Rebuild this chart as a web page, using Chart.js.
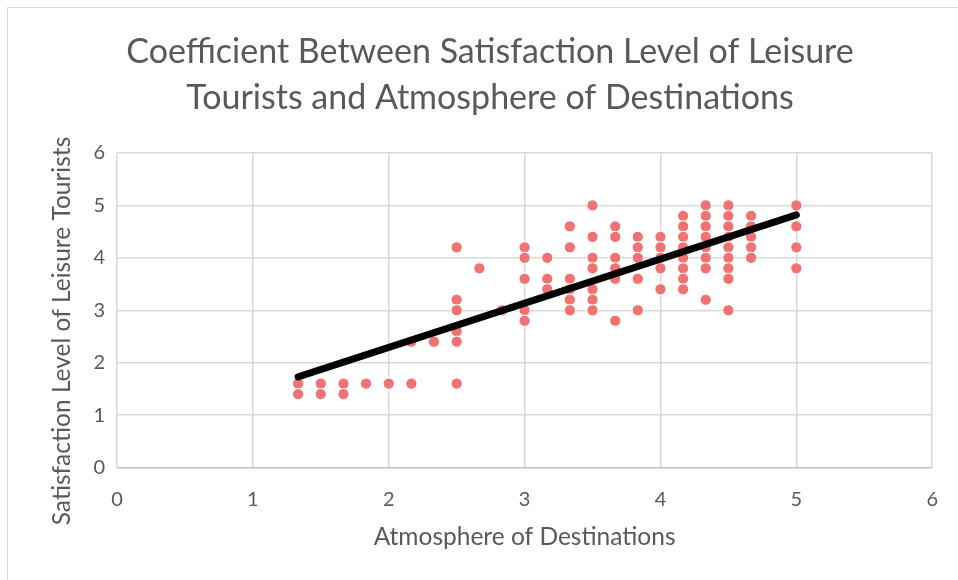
<!DOCTYPE html>
<html>
<head>
<meta charset="utf-8">
<script src="https://cdn.jsdelivr.net/npm/chart.js@4/dist/chart.umd.min.js"></script>
<style>
html,body{margin:0;padding:0;background:#fff;}
#wrap{position:relative;width:958px;height:580px;overflow:hidden;}
#frame{position:absolute;left:7px;top:7px;width:980px;height:600px;border:1px solid #d9d9d9;box-sizing:border-box;}
canvas{position:absolute;left:0;top:0;}
</style>
</head>
<body>
<div id="wrap"><div id="frame"></div><canvas id="chart1" width="958" height="580"></canvas></div>
<script>
/* DATA: one atmosphere score per column, satisfaction scores in that column */
const atmosphereLevels=[1.333,1.5,1.667,1.833,2,2.167,2.333,2.5,2.667,2.833,3,3.167,3.333,3.5,3.667,3.833,4,4.167,4.333,4.5,4.667,5];
const satisfactionByLevel=[
  [1.6,1.4],
  [1.6,1.4],
  [1.6,1.4],
  [1.6],
  [1.6],
  [2.4,1.6],
  [2.4],
  [4.2,3.2,3.0,2.6,2.4,1.6],
  [3.8],
  [3.0],
  [4.2,4.0,3.6,3.0,2.8],
  [4.0,3.6,3.4],
  [4.6,4.2,3.6,3.4,3.2,3.0],
  [5.0,4.4,4.0,3.8,3.4,3.2,3.0],
  [4.6,4.4,4.0,3.8,3.6,2.8],
  [4.4,4.2,4.0,3.6,3.0],
  [4.4,4.2,4.0,3.8,3.4],
  [4.8,4.6,4.4,4.2,4.0,3.8,3.6,3.4],
  [5.0,4.8,4.6,4.4,4.2,4.0,3.8,3.2],
  [5.0,4.8,4.6,4.4,4.2,4.0,3.8,3.6,3.0],
  [4.8,4.6,4.4,4.2,4.0],
  [5.0,4.6,4.2,3.8]
];

/* linear trendline end points */
const trendX=[1.333,5];
const trendY=[1.73,4.82];

/* axis ticks */
const tickValues=[0,1,2,3,4,5,6];

const TEXT="#595959";
const FONT="Lato, 'Open Sans', sans-serif";
const Y_TITLE="Satisfaction Level of Leisure Tourists";

const points=atmosphereLevels.flatMap((x,i)=>satisfactionByLevel[i].map(y=>({x,y})));
const trend=trendX.map((x,i)=>({x,y:trendY[i]}));

function setTicks(scale){
  scale.ticks=tickValues.map(v=>({value:v}));
}

/* rotated y title, sits a bit lower than the plot centre */
const yTitle={
  id:"yTitle",
  afterDraw(chart){
    const ctx=chart.ctx;
    ctx.save();
    ctx.translate(62,331);
    ctx.rotate(-Math.PI/2);
    ctx.font="24.5px "+FONT;
    ctx.fillStyle=TEXT;
    ctx.textAlign="center";
    ctx.textBaseline="middle";
    ctx.fillText(Y_TITLE,0,0);
    ctx.restore();
  }
};

new Chart(chart1,{
  type:"scatter",
  data:{
    datasets:[
      {
        type:"line",
        data:trend,
        borderColor:"#000",
        borderWidth:7,
        borderCapStyle:"round",
        pointRadius:0,
        fill:false,
        order:0
      },
      {
        data:points,
        backgroundColor:"#f17272",
        borderColor:"#ffffff",
        borderWidth:1,
        pointRadius:5.6,
        order:1
      }
    ]
  },
  options:{
    responsive:false,
    animation:false,
    layout:{padding:{left:22,right:0,top:0,bottom:0}},
    plugins:{
      legend:{display:false},
      tooltip:{enabled:false},
      title:{
        display:true,
        text:["Coefficient Between Satisfaction Level of Leisure","Tourists and Atmosphere of Destinations"],
        color:TEXT,
        font:{family:FONT,size:34,weight:"normal",lineHeight:"46px"},
        padding:{top:29,bottom:32}
      }
    },
    scales:{
      x:{
        type:"linear",
        min:0,max:6,
        afterBuildTicks:setTicks,
        afterFit:s=>{s.height=112.5;},
        border:{display:false},
        grid:{color:"#d9d9d9",lineWidth:1.5,drawTicks:false},
        ticks:{color:TEXT,font:{family:FONT,size:20},padding:20},
        title:{display:true,text:"Atmosphere of Destinations",color:TEXT,font:{family:FONT,size:24.5},padding:{bottom:28}}
      },
      y:{
        type:"linear",
        min:0,max:6,
        afterBuildTicks:setTicks,
        afterFit:s=>{s.width=95;},
        border:{display:false},
        grid:{color:c=>c.tick&&c.tick.value===0?"#bfbfbf":"#d9d9d9",lineWidth:1.5,drawTicks:false},
        ticks:{color:TEXT,font:{family:FONT,size:20},padding:12}
      }
    }
  },
  plugins:[yTitle]
});
</script>
</body>
</html>
